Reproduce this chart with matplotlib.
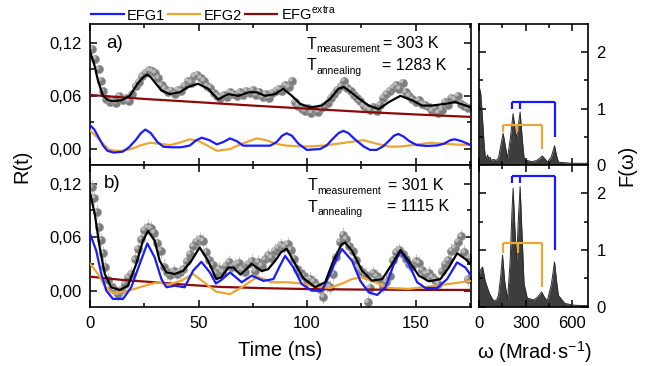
import numpy as np
import matplotlib
matplotlib.use('Agg')
import matplotlib.pyplot as plt
from matplotlib.lines import Line2D
from matplotlib.ticker import FixedLocator, FuncFormatter
import matplotlib.transforms as mtrans

plt.rcParams['font.family'] = ['Liberation Sans', 'DejaVu Sans']
plt.rcParams['mathtext.fontset'] = 'custom'
plt.rcParams['mathtext.rm'] = 'Liberation Sans'
plt.rcParams['mathtext.it'] = 'Liberation Sans:italic'
plt.rcParams['mathtext.bf'] = 'Liberation Sans:bold'

# ---------------- data: panel a) ----------------
ta_data = [1.0, 2.5, 4.0, 5.0, 6.0, 7.5, 9.0, 10.5, 12.0, 13.5, 15.0, 16.5, 18.0, 19.5, 21.0, 22.5,
           24.0, 25.5, 27.0, 28.5, 30.0, 31.5, 33.0, 34.5, 36.0, 37.5, 39.0, 40.5, 42.0, 43.5, 45.0,
           46.5, 48.0, 49.5, 51.0, 52.5, 54.0, 55.5, 57.0, 58.5, 60.0, 61.5, 63.0, 64.5, 66.0, 67.5,
           69.0, 70.5, 72.0, 73.5, 75.0, 76.5, 78.0, 79.5, 81.0, 82.5, 84.0, 85.5, 87.0, 88.5, 90.0,
           91.5, 93.0, 94.5, 96.0, 97.5, 99.0, 100.5, 102.0, 103.5, 105.0, 106.5, 108.0, 109.5, 111.0,
           112.5, 114.0, 115.5, 117.0, 118.5, 120.0, 121.5, 123.0, 124.5, 126.0, 127.5, 129.0, 130.5,
           132.0, 133.5, 135.0, 136.5, 138.0, 139.5, 141.0, 142.5, 144.0, 145.5, 147.0, 148.5, 150.0,
           151.5, 153.0, 154.5, 156.0, 157.5, 159.0, 160.5, 162.0, 163.5, 165.0, 166.5, 168.0, 169.5,
           171.0, 172.5, 174.0]
Ra_data = [0.113, 0.102, 0.090, 0.077, 0.065, 0.056, 0.053, 0.055, 0.052, 0.060, 0.055, 0.057, 0.054,
           0.062, 0.071, 0.076, 0.082, 0.086, 0.089, 0.088, 0.086, 0.080, 0.072, 0.068, 0.064, 0.066,
           0.062, 0.067, 0.065, 0.071, 0.077, 0.075, 0.082, 0.084, 0.080, 0.077, 0.071, 0.069, 0.063,
           0.060, 0.058, 0.061, 0.059, 0.064, 0.062, 0.060, 0.064, 0.061, 0.066, 0.063, 0.067, 0.061,
           0.064, 0.059, 0.062, 0.058, 0.063, 0.066, 0.068, 0.065, 0.072, 0.070, 0.077, 0.053, 0.049,
           0.045, 0.043, 0.046, 0.041, 0.044, 0.042, 0.046, 0.048, 0.052, 0.058, 0.062, 0.067, 0.071,
           0.077, 0.069, 0.066, 0.061, 0.058, 0.054, 0.049, 0.046, 0.044, 0.047, 0.043, 0.050, 0.058,
           0.062, 0.066, 0.069, 0.072, 0.068, 0.075, 0.064, 0.060, 0.056, 0.053, 0.055, 0.051, 0.050,
           0.047, 0.043, 0.046, 0.041, 0.044, 0.053, 0.050, 0.058, 0.056, 0.060, 0.051, 0.049, 0.046]

ta_fit = [0, 2, 3.7, 6, 8.3, 11, 14.4, 18.3, 22, 24.5, 26.4, 28, 29.8, 32.9, 36.7, 41.3, 45.2, 49.8,
          54.4, 59, 63.7, 68.4, 73, 76.8, 80.6, 85.3, 89, 93, 96.8, 101.4, 106.8, 110.6, 114.4, 117,
          119.2, 123.8, 128.4, 133, 137.7, 143, 148.4, 153, 157.6, 163.7, 168.4, 173, 175.5]
Ra_fit = [0.110, 0.095, 0.077, 0.060, 0.055, 0.054, 0.055, 0.060, 0.074, 0.081, 0.084, 0.081, 0.0755,
          0.066, 0.062, 0.064, 0.070, 0.0736, 0.068, 0.056, 0.062, 0.060, 0.064, 0.064, 0.060, 0.062,
          0.068, 0.060, 0.051, 0.047, 0.049, 0.0566, 0.068, 0.070, 0.066, 0.057, 0.049, 0.045, 0.053,
          0.060, 0.055, 0.049, 0.049, 0.051, 0.053, 0.049, 0.047]

ta_efg1 = [0, 2, 4, 6, 8, 11, 15, 18, 21, 23.5, 25.5, 28, 31, 33.8, 37, 42, 46, 49, 51.5, 55, 58.4,
           61.5, 64.5, 67.5, 70.6, 75, 83, 86, 88.5, 90.6, 93, 96, 99.9, 106, 109, 112, 114.5, 116.7,
           119, 122, 126, 129, 132, 135, 138, 140, 142, 144.5, 147, 150.5, 155, 159.8, 163, 166, 168,
           171, 175.5]
Ra_efg1 = [0.027, 0.022, 0.013, 0.004, -0.002, -0.004, -0.003, 0.002, 0.010, 0.018, 0.022, 0.018,
           0.008, 0.0026, 0.002, 0.002, 0.004, 0.010, 0.0128, 0.010, 0.0053, 0.008, 0.012, 0.009,
           0.0038, 0.0038, 0.0038, 0.008, 0.015, 0.0178, 0.015, 0.006, -0.001, 0.000, 0.004, 0.012,
           0.018, 0.0205, 0.018, 0.011, 0.003, -0.001, -0.001, 0.003, 0.010, 0.015, 0.017, 0.014,
           0.009, 0.0045, 0.0035, 0.004, 0.006, 0.010, 0.011, 0.009, 0.0045]

ta_efg2 = [0, 3, 6, 9, 12, 15, 19, 23, 27.6, 32, 37, 41, 46, 50, 54, 58.4, 64.5, 70, 76.8, 81, 86,
           90, 96, 102, 108, 114, 120, 126, 132, 138, 144, 150, 156.7, 163, 169, 175.5]
Ra_efg2 = [0.021, 0.014, 0.006, -0.001, -0.002, -0.002, 0.000, 0.004, 0.007, 0.006, 0.0045, 0.007,
           0.011, 0.009, 0.004, -0.002, 0.000, 0.006, 0.012, 0.010, 0.0057, 0.004, 0.003, 0.003,
           0.004, 0.006, 0.008, 0.010, 0.006, 0.0026, 0.003, 0.005, 0.007, 0.006, 0.005, 0.0045]

ta_extra = [0, 25, 50, 75, 100, 125, 150, 175.5]
Ra_extra = [0.061, 0.0565, 0.0528, 0.0490, 0.0455, 0.0420, 0.0390, 0.0362]

# ---------------- data: panel b) ----------------
tb_data = [1.0, 2.0, 3.0, 4.0, 5.0, 6.0, 7.0, 8.5, 10.0, 11.5, 13.0, 14.5, 16.0, 17.5, 19.0, 20.5,
           22.0, 23.5, 25.0, 26.5, 28.0, 29.5, 31.0, 32.5, 34.0, 35.5, 37.0, 38.5, 40.0, 41.5, 43.0,
           44.5, 46.0, 47.5, 49.0, 50.5, 52.0, 53.5, 55.0, 56.5, 58.0, 59.5, 61.0, 62.5, 64.0, 65.5,
           67.0, 68.5, 70.0, 71.5, 73.0, 74.5, 76.0, 77.5, 79.0, 80.5, 82.0, 83.5, 85.0, 86.5, 88.0,
           89.5, 91.0, 92.5, 94.0, 95.5, 97.0, 98.5, 100.0, 101.5, 103.0, 104.5, 106.0, 107.5, 109.0,
           110.5, 112.0, 113.5, 115.0, 116.5, 118.0, 119.5, 121.0, 122.5, 124.0, 125.5, 127.0, 128.0,
           129.0, 130.5, 132.0, 133.5, 135.0, 136.5, 138.0, 139.5, 141.0, 142.5, 144.0, 145.5, 147.0,
           148.5, 150.0, 151.5, 153.0, 154.5, 156.0, 157.5, 159.0, 160.5, 162.0, 163.5, 165.0, 166.5,
           168.0, 169.5, 171.0, 172.5, 174.0, 175.0]
Rb_data = [0.116, 0.104, 0.088, 0.071, 0.057, 0.042, 0.027, 0.012, 0.004, 0.001, -0.004, 0.001, 0.008,
           0.015, 0.019, 0.035, 0.047, 0.058, 0.068, 0.071, 0.070, 0.065, 0.054, 0.045, 0.027, 0.021,
           0.018, 0.022, 0.019, 0.021, 0.024, 0.033, 0.041, 0.050, 0.055, 0.058, 0.056, 0.043, 0.034,
           0.029, 0.019, 0.024, 0.021, 0.028, 0.032, 0.026, 0.029, 0.031, 0.024, 0.021, 0.030, 0.033,
           0.022, 0.032, 0.028, 0.035, 0.040, 0.037, 0.045, 0.048, 0.051, 0.049, 0.052, 0.046, 0.036,
           0.024, 0.020, 0.016, 0.012, 0.013, 0.010, 0.005, 0.002, -0.007, 0.006, 0.004, 0.019, 0.038,
           0.055, 0.063, 0.058, 0.050, 0.044, 0.034, 0.024, 0.021, 0.018, -0.013, 0.003, 0.020, 0.016,
           0.012, 0.005, 0.010, 0.016, 0.034, 0.043, 0.046, 0.041, 0.036, 0.030, 0.028, 0.033, 0.031,
           0.023, 0.019, 0.020, 0.015, 0.012, 0.008, 0.022, 0.030, 0.034, 0.045, 0.048, 0.055, 0.061,
           0.043, 0.013, 0.037]

tb_fit = [0, 2.2, 4.5, 6.8, 9.8, 13.7, 17.5, 21.3, 24.4, 26.7, 29.8, 32.1, 35.2, 39, 42.9, 46.7, 50.5,
          54.4, 58.2, 60.5, 63.7, 66, 69.3, 74.5, 79.1, 82, 85.3, 88, 90.6, 94.5, 98.3, 103.7, 108.3,
          112.1, 115.9, 117.5, 120.7, 125.3, 129.9, 134.6, 139.2, 143, 146.8, 151.5, 156.1, 161.4,
          165.3, 169.1, 173, 175.5]
Rb_fit = [0.110, 0.086, 0.048, 0.0187, 0.0038, 0.0008, 0.0056, 0.030, 0.056, 0.067, 0.056, 0.0335,
          0.0205, 0.0187, 0.0223, 0.0335, 0.0485, 0.0335, 0.013, 0.015, 0.026, 0.026, 0.018, 0.030,
          0.022, 0.024, 0.0335, 0.043, 0.047, 0.030, 0.014, 0.0038, 0.0094, 0.0335, 0.052, 0.054,
          0.0447, 0.0224, 0.0112, 0.013, 0.030, 0.0455, 0.0335, 0.0168, 0.0105, 0.013, 0.026, 0.042,
          0.0354, 0.029]

tb_efg1 = [0, 2.9, 5.2, 7.5, 10.6, 15.2, 19, 22.9, 26.4, 29.8, 32.9, 35.2, 39, 43.6, 47.5, 51.3,
           55.2, 58, 60.5, 64.5, 69.9, 74.5, 79.9, 84.5, 87.5, 89.9, 93.7, 97.5, 102.1, 106.8, 110.6,
           114, 116.1, 120.7, 124.5, 128.4, 132.3, 136.1, 140, 143, 146.8, 150.7, 154.5, 159.9, 164.5,
           169.1, 172.9, 175.5]
Rb_efg1 = [0.064, 0.0447, 0.0187, 0.000, -0.0093, -0.0093, 0.0038, 0.030, 0.053, 0.0373, 0.013,
           0.0038, 0.0056, 0.0038, 0.0224, 0.0324, 0.0205, 0.008, 0.012, 0.0205, 0.0094, 0.0168,
           0.011, 0.013, 0.028, 0.039, 0.026, 0.0075, 0.000, 0.000, 0.0187, 0.038, 0.0466, 0.0335,
           0.011, -0.002, -0.0048, 0.0038, 0.030, 0.044, 0.030, 0.0094, 0.003, 0.003, 0.013, 0.0317,
           0.026, 0.017]

tb_efg2 = [0, 3.7, 6.8, 9.8, 14.4, 20.6, 26.7, 31.3, 35.9, 42, 47.5, 52.5, 58, 64.5, 70, 77.2, 83.7,
           91.4, 97.5, 103.7, 110.6, 116.1, 120.7, 125.3, 131.5, 137.7, 146.8, 156.1, 166.8, 175.5]
Rb_efg2 = [0.030, 0.0187, 0.0056, -0.002, -0.002, 0.002, 0.0067, 0.0094, 0.0067, 0.011, 0.0187,
           0.0094, -0.001, -0.004, 0.004, 0.0157, 0.0094, 0.0094, 0.008, 0.0045, 0.003, 0.008, 0.013,
           0.015, 0.0094, 0.003, 0.002, 0.0045, 0.008, 0.011]

tb_extra = [0, 15, 30, 45, 60, 80, 100, 125, 150, 175.5]
Rb_extra = [0.0157, 0.012, 0.0094, 0.0065, 0.0042, 0.0028, 0.0018, 0.0012, 0.0009, 0.0008]

# ---------------- Fourier spectra ----------------
wa = [0, 5, 12, 23, 34, 40, 48, 55, 62, 70, 80, 95, 110, 125, 140, 155, 168, 183, 200, 219, 232, 240,
      250, 264, 278, 289, 310, 340, 370, 390, 406, 420, 440, 465, 485, 498, 510, 550, 600, 650, 700]
Fa = [1.30, 1.35, 1.25, 0.79, 0.32, 0.15, 0.12, 0.18, 0.10, 0.14, 0.08, 0.10, 0.08, 0.12, 0.35, 0.56,
      0.35, 0.12, 0.45, 0.91, 0.62, 0.47, 0.65, 0.94, 0.45, 0.13, 0.08, 0.06, 0.08, 0.12, 0.16, 0.12,
      0.05, 0.15, 0.34, 0.17, 0.05, 0.04, 0.03, 0.03, 0.03]
wb = [0, 10, 23, 40, 66, 85, 98, 115, 125, 140, 151, 165, 183, 200, 212, 219, 230, 242, 252, 264, 276,
      289, 310, 353, 380, 402, 420, 438, 465, 485, 498, 510, 550, 600, 650, 700]
Fb = [0.55, 0.65, 0.70, 0.45, 0.24, 0.14, 0.10, 0.13, 0.20, 0.55, 0.91, 0.45, 0.12, 0.80, 1.70, 2.09,
      1.40, 0.82, 1.50, 2.12, 1.30, 0.41, 0.15, 0.12, 0.18, 0.26, 0.17, 0.10, 0.40, 0.79, 0.45, 0.20,
      0.06, 0.03, 0.02, 0.02]

# bracket markers (frequency legs, top level, leg ends)
a_efg1_w = [215, 264, 485]; a_efg1_top = 1.11; a_efg1_end = [1.0, 1.0, 0.5]
a_efg2_w = [155, 247, 404]; a_efg2_top = 0.705; a_efg2_end = [0.59, 0.59, 0.29]
b_efg1_w = [215, 264, 485]; b_efg1_top = 2.31; b_efg1_end = [2.19, 2.19, 1.0]
b_efg2_w = [151, 249, 404]; b_efg2_top = 1.12; b_efg2_end = [0.94, 0.94, 0.35]

# ---------------- styling ----------------
BLUE = '#1a1aff'
ORANGE = '#e9a733'
DRED = '#8b0a0a'
W, H = 660, 366

fig = plt.figure(figsize=(6.6, 3.66), dpi=100)

def fx(px):
    return px / W

def fy(py):
    return 1 - py / H

axA = fig.add_axes([fx(90), fy(165), 381 / W, 141 / H])
axB = fig.add_axes([fx(90), fy(306.7), 381 / W, 141.7 / H])
axFA = fig.add_axes([fx(479), fy(165), 109 / W, 141 / H])
axFB = fig.add_axes([fx(479), fy(306.7), 109 / W, 141.7 / H])

comma = FuncFormatter(lambda v, p: ('%.2f' % v).replace('.', ','))

for ax in (axA, axB):
    ax.set_xlim(0, 175.5)
    ax.set_ylim(-0.018, 0.141)
    ax.xaxis.set_major_locator(FixedLocator([0, 50, 100, 150]))
    ax.xaxis.set_minor_locator(FixedLocator([25, 75, 125, 175]))
    ax.yaxis.set_major_locator(FixedLocator([0, 0.06, 0.12]))
    ax.yaxis.set_minor_locator(FixedLocator([0.03, 0.09]))
    ax.yaxis.set_major_formatter(comma)

for ax in (axFA, axFB):
    ax.set_xlim(0, 700)
    ax.set_ylim(0, 2.5)
    ax.xaxis.set_major_locator(FixedLocator([0, 300, 600]))
    ax.xaxis.set_minor_locator(FixedLocator([150, 450]))
    ax.yaxis.set_major_locator(FixedLocator([0, 1, 2]))
    ax.yaxis.set_minor_locator(FixedLocator([0.5, 1.5]))

for ax in (axA, axB, axFA, axFB):
    for s in ax.spines.values():
        s.set_linewidth(1.2)
    ax.tick_params(which='both', direction='in', top=True, right=True, width=1.1, labelsize=12)
    ax.tick_params(which='major', length=5)
    ax.tick_params(which='minor', length=3)
    ax.tick_params(axis='x', pad=7)
    ax.tick_params(axis='y', pad=6)

axA.tick_params(labelbottom=False)
axFA.tick_params(labelbottom=False)
for ax in (axFA, axFB):
    ax.tick_params(labelleft=False, labelright=True)


def draw_points(ax, t, r, err):
    t = np.asarray(t); r = np.asarray(r)
    ax.vlines(t, r - err, r + err, color='#c4c4c4', lw=0.8, zorder=1)
    ax.scatter(t, r, s=34, facecolor='#7d7d7d', edgecolor='#9c9c9c', linewidth=0.5, zorder=2)
    off = ax.transData + mtrans.ScaledTranslation(-0.9 / 72, 0.9 / 72, fig.dpi_scale_trans)
    ax.scatter(t, r, s=8, facecolor='#b9b9b9', edgecolor='none', transform=off, zorder=2.1)


draw_points(axA, ta_data, Ra_data, 0.004)
axA.plot(ta_extra, Ra_extra, color=DRED, lw=1.6, zorder=3)
axA.plot(ta_efg2, Ra_efg2, color=ORANGE, lw=1.6, zorder=3)
axA.plot(ta_efg1, Ra_efg1, color=BLUE, lw=1.6, zorder=3)
axA.plot(ta_fit, Ra_fit, color='black', lw=1.6, zorder=4)

draw_points(axB, tb_data, Rb_data, 0.008)
axB.plot(tb_extra, Rb_extra, color=DRED, lw=1.6, zorder=3)
axB.plot(tb_efg2, Rb_efg2, color=ORANGE, lw=1.6, zorder=3)
axB.plot(tb_efg1, Rb_efg1, color=BLUE, lw=1.6, zorder=3)
axB.plot(tb_fit, Rb_fit, color='black', lw=1.6, zorder=4)


def draw_spectrum(ax, w, f):
    ax.fill_between(w, 0, f, color='#3d3d3d', lw=0)
    ax.plot(w, f, color='#2a2a2a', lw=0.7)


def draw_bracket(ax, legs, top, ends, color):
    ax.plot([legs[0], legs[-1]], [top, top], color=color, lw=1.6, solid_capstyle='butt')
    for w_, e in zip(legs, ends):
        ax.plot([w_, w_], [top, e], color=color, lw=1.6, solid_capstyle='butt')


draw_spectrum(axFA, wa, Fa)
draw_bracket(axFA, a_efg2_w, a_efg2_top, a_efg2_end, ORANGE)
draw_bracket(axFA, a_efg1_w, a_efg1_top, a_efg1_end, BLUE)
draw_spectrum(axFB, wb, Fb)
draw_bracket(axFB, b_efg2_w, b_efg2_top, b_efg2_end, ORANGE)
draw_bracket(axFB, b_efg1_w, b_efg1_top, b_efg1_end, BLUE)

# labels
fig.text(fx(22), fy(166), 'R(t)', rotation=90, ha='center', va='center', fontsize=14.5)
fig.text(fx(280), fy(351), 'Time (ns)', ha='center', va='center', fontsize=14.5)
fig.text(fx(534), fy(352), r'ω (Mrad·s$^{\mathrm{-1}}$)', ha='center', va='center', fontsize=14.5)
fig.text(fx(627), fy(165), 'F(ω)', rotation=90, ha='center', va='center', fontsize=14.5)

fig.text(fx(106), fy(48.5), 'a)', fontsize=13.5, va='baseline')
fig.text(fx(104), fy(188.5), 'b)', fontsize=13.5, va='baseline')

def tlabel(x, y, sub, val, xval):
    fig.text(fx(x), fy(y), 'T', fontsize=11.5, va='baseline')
    fig.text(fx(x + 9.5), fy(y + 3.5), sub, fontsize=7.5, va='baseline')
    fig.text(fx(xval), fy(y - 0.5), val, fontsize=11.5, va='baseline')

tlabel(307, 49, 'measurement', '= 303 K', 383)
tlabel(307, 70.5, 'annealing', '= 1283 K', 382)
tlabel(308, 190.5, 'measurement', '= 301 K', 388)
tlabel(308, 211.5, 'annealing', '= 1115 K', 387)

handles = [Line2D([], [], color=BLUE, lw=1.6),
           Line2D([], [], color=ORANGE, lw=1.6),
           Line2D([], [], color=DRED, lw=1.6)]
axA.legend(handles, ['EFG1', 'EFG2', r'EFG$^{\mathrm{extra}}$'], loc='lower left',
           bbox_to_anchor=(0.0, 1.0), ncol=3, frameon=False, fontsize=10.5,
           handlelength=2.2, handletextpad=0.25, columnspacing=0.2, borderpad=0.1,
           borderaxespad=0.0)

fig.savefig('out.png', dpi=100)
